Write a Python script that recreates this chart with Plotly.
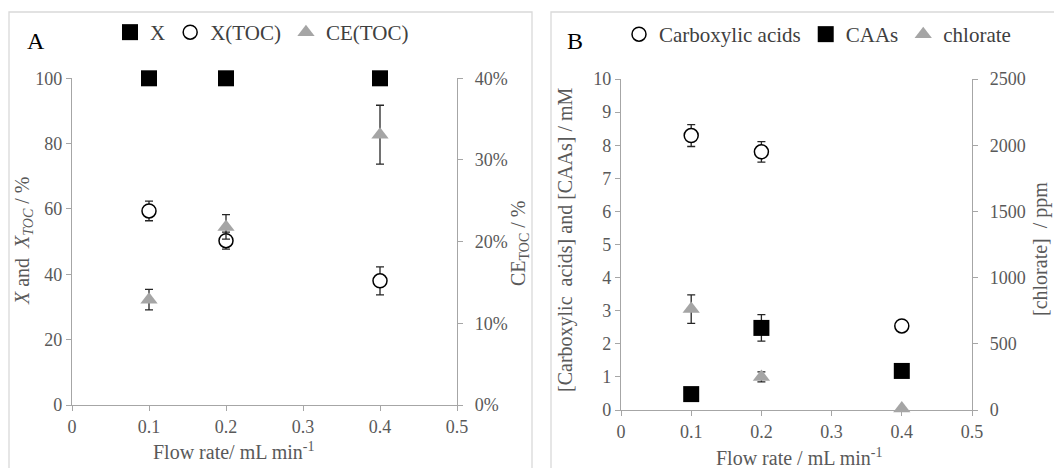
import plotly.graph_objects as go

# ---------------- data ----------------
flow = [0.1, 0.2, 0.4]

# Panel A
x_conv = [100, 100, 100]
x_toc = [59.4, 50.3, 38.0]
x_toc_err = [3.0, 2.6, 4.3]
ce_toc = [12.9, 21.8, 33.1]
ce_toc_err = [1.25, 1.5, 3.6]

# Panel B
carbox = [8.29, 7.80, 2.54]
carbox_err = [0.33, 0.31, 0.0]
caas = [0.48, 2.48, 1.18]
caas_err = [0.0, 0.40, 0.0]
chlorate = [762, 250, 12]
chlorate_err = [108, 38, 0]

x_ticks = [0, 0.1, 0.2, 0.3, 0.4, 0.5]
x_ticktext = ["0", "0.1", "0.2", "0.3", "0.4", "0.5"]
a_left_ticks = [0, 20, 40, 60, 80, 100]
a_right_ticks = [0, 10, 20, 30, 40]
a_right_text = ["0%", "10%", "20%", "30%", "40%"]
b_left_ticks = list(range(0, 11))
b_right_ticks = [0, 500, 1000, 1500, 2000, 2500]

W, H = 1054, 468
FONT = "Liberation Serif"
TICKC = "#595959"
AXC = "#a6a6a6"
TXT = "#404040"
GREY = "#a5a5a5"
ERRC = "#262626"


def px_x(p):
    return p / W


def px_y(p):
    return 1 - p / H


fig = go.Figure()

# ---- Panel A traces ----
fig.add_trace(go.Scatter(
    x=flow, y=x_conv, mode="markers", name="X", cliponaxis=False,
    marker=dict(symbol="square", size=16, color="black"),
    xaxis="x", yaxis="y", legend="legend"))
fig.add_trace(go.Scatter(
    x=flow, y=x_toc, mode="markers", name="X(TOC)", cliponaxis=False,
    marker=dict(symbol="circle", size=14, color="white",
                line=dict(color="black", width=1.5)),
    error_y=dict(type="data", array=x_toc_err, color=ERRC, thickness=1.3, width=4),
    xaxis="x", yaxis="y", legend="legend"))
fig.add_trace(go.Scatter(
    x=flow, y=ce_toc, mode="markers", name="CE(TOC)", cliponaxis=False,
    marker=dict(symbol="triangle-up", size=15, color=GREY),
    error_y=dict(type="data", array=ce_toc_err, color=ERRC, thickness=1.3, width=4),
    xaxis="x", yaxis="y2", legend="legend"))

# ---- Panel B traces ----
fig.add_trace(go.Scatter(
    x=flow, y=carbox, mode="markers", name="Carboxylic acids", cliponaxis=False,
    marker=dict(symbol="circle", size=14, color="white",
                line=dict(color="black", width=1.5)),
    error_y=dict(type="data", array=carbox_err, color=ERRC, thickness=1.3, width=4),
    xaxis="x3", yaxis="y3", legend="legend2"))
fig.add_trace(go.Scatter(
    x=flow, y=caas, mode="markers", name="CAAs", cliponaxis=False,
    marker=dict(symbol="square", size=16, color="black"),
    error_y=dict(type="data", array=caas_err, color=ERRC, thickness=1.3, width=4),
    xaxis="x3", yaxis="y3", legend="legend2"))
fig.add_trace(go.Scatter(
    x=flow, y=chlorate, mode="markers", name="chlorate", cliponaxis=False,
    marker=dict(symbol="triangle-up", size=15, color=GREY),
    error_y=dict(type="data", array=chlorate_err, color=ERRC, thickness=1.3, width=4),
    xaxis="x3", yaxis="y4", legend="legend2"))

common_axis = dict(
    showline=True, linecolor=AXC, linewidth=1.3,
    ticks="outside", ticklen=5, tickcolor=AXC, tickwidth=1.3,
    showgrid=False, zeroline=False, automargin=False,
    tickfont=dict(family=FONT, size=18, color=TICKC),
)

fig.update_layout(
    width=W, height=H,
    margin=dict(l=0, r=0, t=0, b=0),
    paper_bgcolor="white", plot_bgcolor="white",
    font=dict(family=FONT, color=TXT),
    xaxis=dict(domain=[px_x(72), px_x(457)], range=[0, 0.5],
               tickvals=x_ticks, ticktext=x_ticktext, anchor="y", **common_axis),
    yaxis=dict(domain=[px_y(405), px_y(78.3)], range=[0, 100],
               tickvals=a_left_ticks, anchor="x", **common_axis),
    yaxis2=dict(domain=[px_y(405), px_y(78.3)], range=[0, 40], overlaying="y",
                side="right", anchor="x", tickvals=a_right_ticks,
                ticktext=a_right_text, ticklabelstandoff=8, **common_axis),
    xaxis3=dict(domain=[px_x(621), px_x(972)], range=[0, 0.5],
                tickvals=x_ticks, ticktext=x_ticktext, anchor="y3", **common_axis),
    yaxis3=dict(domain=[px_y(410), px_y(79)], range=[0, 10],
                tickvals=b_left_ticks, anchor="x3", **common_axis),
    yaxis4=dict(domain=[px_y(410), px_y(79)], range=[0, 2500], overlaying="y3",
                side="right", anchor="x3", tickvals=b_right_ticks,
                ticklabelstandoff=8, **common_axis),
    legend=dict(orientation="h", x=px_x(110), y=px_y(12), xanchor="left", yanchor="top",
                font=dict(family=FONT, size=21, color=TXT), bgcolor="rgba(0,0,0,0)",
                itemclick=False),
    legend2=dict(orientation="h", x=px_x(619), y=px_y(14), xanchor="left", yanchor="top",
                 font=dict(family=FONT, size=21, color=TXT), bgcolor="rgba(0,0,0,0)",
                 itemclick=False),
    showlegend=True,
)

# panel borders
fig.add_shape(type="rect", xref="paper", yref="paper",
              x0=px_x(9), x1=px_x(532), y0=px_y(475), y1=px_y(12),
              line=dict(color="#d9d9d9", width=1.3))
fig.add_shape(type="rect", xref="paper", yref="paper",
              x0=px_x(551), x1=px_x(1062), y0=px_y(475), y1=px_y(12),
              line=dict(color="#d9d9d9", width=1.3))

ann = [
    # panel labels
    dict(text="A", x=px_x(36), y=px_y(41), font=dict(size=24, color="black")),
    dict(text="B", x=px_x(575), y=px_y(41), font=dict(size=24, color="black")),
    # axis titles panel A
    dict(text="<i>X</i> and  <i>X</i><sub><i>TOC</i></sub> / %", x=px_x(24), y=px_y(241),
         textangle=-90, font=dict(size=20, color=TICKC)),
    dict(text="CE<sub>TOC</sub> / %", x=px_x(519), y=px_y(243),
         textangle=-90, font=dict(size=20, color=TICKC)),
    dict(text="Flow rate/ mL min<sup>-1</sup>", x=px_x(233), y=px_y(451),
         font=dict(size=20, color=TICKC)),
    # axis titles panel B
    dict(text="[Carboxylic  acids] and [CAAs] / mM", x=px_x(566), y=px_y(240),
         textangle=-90, font=dict(size=20, color=TICKC)),
    dict(text="[chlorate]  / ppm", x=px_x(1040), y=px_y(249),
         textangle=-90, font=dict(size=20, color=TICKC)),
    dict(text="Flow rate / mL min<sup>-1</sup>", x=px_x(799), y=px_y(457),
         font=dict(size=20, color=TICKC)),
]
for a in ann:
    fig.add_annotation(xref="paper", yref="paper", showarrow=False,
                       xanchor="center", yanchor="middle",
                       font_family=FONT, **{k: v for k, v in a.items()})

fig.write_html("out.html")
